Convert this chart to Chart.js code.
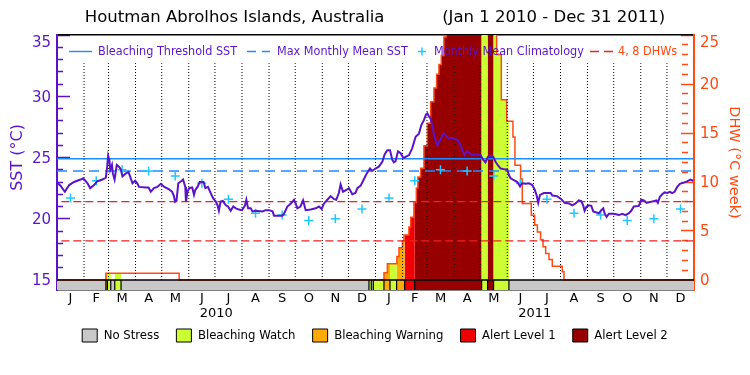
<!DOCTYPE html>
<html><head><meta charset="utf-8">
<script src="https://cdn.jsdelivr.net/npm/chart.js@4.4.1/dist/chart.umd.min.js"></script>
<style>html,body{margin:0;padding:0;background:#fff;}</style>
</head><body>
<canvas id="c" width="750" height="375" style="width:750px;height:375px;display:block"></canvas>
<script>
// ---------- DATA ----------
const monthLetters = ['J','F','M','A','M','J','J','A','S','O','N','D'];
const monthLengths = [31,28,31,30,31,30,31,31,30,31,30,31];
const yearLabels = ['2010','2011'];
// monthly mean climatology (deg C), Jan..Dec
const climatology = [21.7,23.1,24.0,23.9,23.5,22.9,21.6,20.45,20.3,19.85,20.0,20.8];
const maxMonthlyMean = 23.9;
const bleachingThreshold = 24.9;
const dhwLevels = [4, 8];
// SST (days since Jan 1 2010)
const sstDays = [0,4,9,14,19.5,27,30,35,38,42.5,46,52,56,57.5,58.6,60,61,63,64,66,68.5,71,73,75,79,82,86.5,89.5,92,94,102,105,107.5,111,115,119,123,128.5,132,134,135.3,137,139,143,144.5,147,147.8,149.5,151.5,155,157,158.5,161,163.5,168,170,173,175.5,179,182,184,185.5,187.5,190,193.5,196,199,202,205,208.5,212,215.5,217,219,222,224,228,235.5,239,243,247,248.7,258.3,260,264,268,271.6,273.5,275.4,279,282,285,290.7,296.4,300.3,303.3,306,309.8,313.6,317.5,320,323,325,327.8,331.6,334.6,338.4,342,344.2,348,351.5,355,358.7,361,365,368.8,372.8,375.5,378.5,381.6,384.3,386,388,390.8,393.8,397,399.5,403.4,407,411,414.8,417.5,420.5,422.8,424.4,426.3,428,430,432,434,435.8,437.7,439.6,441.5,443.5,446.5,449,453,458.7,462.5,464.5,467,470,473,476,481.6,485.5,488.5,491,493.9,497.7,500,502.6,505.4,508.4,512,516,518,519.8,523.6,527.5,530.5,533,537,540.8,544.7,547.3,549.5,551.5,553.5,558,565.7,567.6,573,577.9,581.7,586.7,590.5,594.3,598,600.8,603,604.6,606.9,609.6,612.3,614.5,621,623.7,626,627.5,629.8,632.5,638.2,644,647.8,651.6,655.4,658,661.1,666.9,669.5,672.6,675.6,681.4,687,688.6,690.9,693.6,696.2,699.3,702.4,705,707.7,710.8,713.8,718.4,722,726,729];
const sstValues = [22.95,22.7,22.2,22.75,23.0,23.2,23.3,22.9,22.5,22.75,23.05,23.2,23.35,24.25,25.15,24.8,24.0,24.4,23.7,23.2,24.4,24.25,24.05,23.45,23.7,23.8,22.9,23.1,22.9,22.6,22.55,22.55,22.2,22.5,22.6,22.85,22.6,22.4,22.2,21.85,21.4,21.5,22.9,23.1,23.2,22.6,21.4,22.2,22.5,22.55,21.95,22.35,22.6,23.0,23.0,22.5,22.6,22.2,21.65,21.4,21.1,20.65,21.4,21.45,21.1,21.0,20.65,21.0,20.85,20.75,20.7,21.1,21.55,20.85,20.85,20.6,20.65,20.6,20.7,20.7,20.6,20.25,20.25,20.4,21.0,21.25,21.55,21.25,20.85,21.0,21.5,20.7,20.75,20.85,21.0,20.8,21.25,21.55,21.85,21.6,21.55,22.1,22.8,22.2,22.35,22.5,22.0,22.1,22.5,22.7,23.2,23.7,24.1,23.9,24.1,24.25,24.65,25.25,25.6,25.6,24.8,24.6,24.7,25.5,25.35,24.95,25.05,25.2,25.75,26.7,26.95,27.65,28.05,28.5,28.6,28.35,28.2,27.65,26.85,26.35,26.0,26.3,26.45,26.85,26.95,26.7,26.55,26.6,26.45,26.0,25.6,25.2,25.5,25.35,25.2,25.25,25.2,24.8,24.6,25.05,25.15,25.05,24.65,24.35,24.1,24.05,24.0,23.55,23.3,23.15,23.0,22.65,22.9,22.85,22.9,22.75,22.4,21.95,21.3,21.95,22.1,22.1,21.9,21.85,21.6,21.3,21.25,21.1,21.25,21.5,21.45,21.1,20.65,21.0,21.1,21.05,20.6,20.45,20.7,20.85,20.45,20.15,20.4,20.4,20.3,20.4,20.3,20.45,20.65,21.0,21.05,21.55,21.5,21.3,21.4,21.5,21.3,21.8,22.0,22.15,22.1,22.2,22.1,22.2,22.6,22.85,22.95,23.05,23.2,23.1];
// Degree Heating Weeks, step values holding from each day onwards
const dhwDays = [0,56,140,374.7,378.6,389.5,391.9,395.8,397.6,403.3,405.3,409,411.8,413.6,416.7,420.5,424.4,428.2,432,435,437.7,440.4,443.4,446,455,470,490,503.8,509.2,515.3,522.5,524.8,531.3,533.2,543.5,547.4,550.5,554.2,557,560,563.8,567.6,579,581];
const dhwValues = [0,0.68,0,0.75,1.65,2.4,3.3,4.0,4.6,5.4,6.4,7.9,9.4,10.5,11.4,13.7,16.0,18.2,19.6,21.0,22.0,22.9,24.8,26.5,29,31,30,23.0,18.4,16.2,14.6,11.7,10.3,7.8,6.6,5.6,4.9,4.1,3.4,2.7,2.1,1.4,0.85,0];
// Bleaching alert level (0 No Stress .. 4 Alert Level 2), each from its start day
const stressStart = [0,56,57.8,61.6,66.2,73.4,357.5,360.2,362.5,374.7,381.6,389.2,398.4,409.9,486.6,493.5,500.3,517.9];
const stressLevel = [0,2,1,0,1,0,1,0,1,2,1,2,3,4,1,4,1,0];
const stressNames = ['No Stress','Bleaching Watch','Bleaching Warning','Alert Level 1','Alert Level 2'];

// ---------- STYLE ----------
const stressColors = ['#c8c8c8','#ccff33','#ffaa00','#f00000','#960000'];
const PURPLE = '#5a14c8', BLUE = '#1e8cff', CYAN = '#1ec8ff', RED = '#f02020', ORANGE = '#ff4a14';
const TOTAL_DAYS = 730;
const SST_MIN = 15 - 10/12.25;      // strip below 15 C holds the alert bar
const DHW_MIN = -10/9.8;
const FONT = "'DejaVu Sans', 'Liberation Sans', sans-serif";
const NARROW = "'DejaVu Sans Condensed', 'Liberation Sans Narrow', 'DejaVu Sans', sans-serif";

function stepAt(days, vals, d){ let v = vals[0]; for (let i=0;i<days.length;i++){ if (days[i] <= d) v = vals[i]; else break; } return v; }

// month geometry from calendar
const monthStarts = []; const monthMids = [];
let acc = 0;
for (let y=0;y<2;y++) for (let m=0;m<12;m++){ monthStarts.push(acc); monthMids.push(acc + monthLengths[m]/2); acc += monthLengths[m]; }
const yearMids = [182.5, 547.5];
const climDays = monthMids;
const climVals = monthMids.map((d,i)=>climatology[i%12]);

const datasets = [];
datasets.push({label:'SST', data: sstDays.map((d,i)=>({x:d,y:sstValues[i]})), yAxisID:'y', borderColor:PURPLE, borderWidth:2, pointRadius:0, order:1});
datasets.push({label:'Monthly Mean Climatology', data: climDays.map((d,i)=>({x:d,y:climVals[i]})), yAxisID:'y', showLine:false, pointStyle:'cross', pointRadius:4.5, pointBorderWidth:1.5, borderColor:CYAN, backgroundColor:CYAN, order:2});
datasets.push({label:'Bleaching Threshold SST', data:[{x:0,y:bleachingThreshold},{x:TOTAL_DAYS,y:bleachingThreshold}], yAxisID:'y', borderColor:BLUE, borderWidth:1.3, pointRadius:0, order:3});
datasets.push({label:'Max Monthly Mean SST', data:[{x:0,y:maxMonthlyMean},{x:TOTAL_DAYS,y:maxMonthlyMean}], yAxisID:'y', borderColor:BLUE, borderWidth:1.3, borderDash:[10,6], pointRadius:0, order:3});
dhwLevels.forEach(v=>datasets.push({label:v+' DHW', data:[{x:5,y:v},{x:TOTAL_DAYS,y:v}], yAxisID:'y2', borderColor:RED, borderWidth:1.3, borderDash:[8,4], pointRadius:0, order:4}));
const monthDots = [];
monthStarts.slice(1).forEach(b=>{ monthDots.push({x:b,y:15},{x:b,y:32.7},{x:b,y:null}); });
datasets.push({label:'months', data:monthDots, yAxisID:'y', borderColor:'#000', borderWidth:1, borderDash:[1,2], pointRadius:0, spanGaps:false, order:5});
datasets.push({label:'bar top', data:[{x:0,y:0},{x:TOTAL_DAYS,y:0}], yAxisID:'y2', borderColor:'#000', borderWidth:1.5, pointRadius:0, order:6});
const seps = [];
stressStart.slice(1).forEach(b=>{ seps.push({x:b,y:DHW_MIN},{x:b,y:0},{x:b,y:null}); });
datasets.push({label:'separators', data:seps, yAxisID:'y2', borderColor:'#000', borderWidth:1.2, pointRadius:0, spanGaps:false, order:6});
datasets.push({label:'DHW', data: dhwDays.map((d,i)=>({x:d,y:dhwValues[i]})).concat([{x:TOTAL_DAYS,y:0}]), yAxisID:'y2', stepped:true, borderColor:ORANGE, borderWidth:1.5, pointRadius:0, order:7});
// alert bar strip
const barBreaks = stressStart.concat([TOTAL_DAYS]);
for (let L=0; L<5; L++){
  datasets.push({label:'bar '+L, data: barBreaks.map(b=>({x:b, y: stepAt(stressStart,stressLevel,b)===L ? 0 : DHW_MIN})), yAxisID:'y2', stepped:true, borderWidth:0, pointRadius:0, backgroundColor:stressColors[L], fill:{value:DHW_MIN}, order:8});
}
// DHW area coloured by alert level
const fillBreaks = Array.from(new Set(stressStart.concat(dhwDays,[TOTAL_DAYS]))).sort((a,b)=>a-b);
for (let L=1; L<5; L++){
  datasets.push({label:'fill '+L, data: fillBreaks.map(b=>({x:b, y: stepAt(stressStart,stressLevel,b)===L ? stepAt(dhwDays,dhwValues,b) : 0})), yAxisID:'y2', stepped:true, borderWidth:0, pointRadius:0, backgroundColor:stressColors[L], fill:{value:0}, order:9});
}

const topLegend = {
  id:'topLegend',
  afterDatasetsDraw(chart){
    const ctx = chart.ctx; const y = 51.5;
    ctx.save();
    ctx.font = "12.5px " + NARROW;
    ctx.textBaseline = 'middle';
    const items = [
      {x:69, kind:'line', dash:[], color:BLUE, text:'Bleaching Threshold SST', tx:98, tc:PURPLE},
      {x:247, kind:'line', dash:[9,6], color:BLUE, text:'Max Monthly Mean SST', tx:277, tc:PURPLE},
      {x:422, kind:'cross', color:CYAN, text:'Monthly Mean Climatology', tx:434, tc:PURPLE},
      {x:590, kind:'line', dash:[9,5], color:RED, text:'4, 8 DHWs', tx:618, tc:ORANGE}
    ];
    items.forEach(it=>{
      ctx.strokeStyle = it.color; ctx.lineWidth = 1.4;
      ctx.beginPath();
      if (it.kind==='line'){ ctx.setLineDash(it.dash); ctx.moveTo(it.x,y); ctx.lineTo(it.x+23,y); }
      else { ctx.setLineDash([]); ctx.moveTo(it.x-4,y); ctx.lineTo(it.x+4,y); ctx.moveTo(it.x,y-4); ctx.lineTo(it.x,y+4); }
      ctx.stroke();
      ctx.setLineDash([]);
      ctx.fillStyle = it.tc; ctx.fillText(it.text, it.tx, y);
    });
    ctx.restore();
  }
};

const minorDash = c => (c.tick && Math.round(c.tick.value) % 5 === 0) ? [] : [0,7,6,100];
// labels every 5; the top label sits just below the frame as in the reference
const labelEvery5 = top => v => { const r = Math.round(v); if (r % 5 !== 0) return ''; return r === top ? ['', String(r)] : String(r); };

new Chart(document.getElementById('c'), {
  type:'line',
  data:{datasets},
  plugins:[topLegend],
  options:{
    responsive:false, animation:false, devicePixelRatio:1, events:[],
    layout:{padding:{left:0,right:0,top:0,bottom:23}},
    plugins:{
      tooltip:{enabled:false},
      title:{display:true, text:'Houtman Abrolhos Islands, Australia           (Jan 1 2010 - Dec 31 2011)', color:'#000', font:{family:FONT, size:16.5, weight:'normal'}, padding:{top:8,bottom:7.2}},
      legend:{display:true, position:'bottom', onClick:null,
        labels:{boxWidth:15, boxHeight:13, padding:6, color:'#000', font:{family:NARROW, size:13},
          generateLabels:()=>stressNames.map((n,i)=>({text: i < stressNames.length-1 ? n + '   ' : n, fillStyle:stressColors[i], strokeStyle:'#000', lineWidth:1, hidden:false, datasetIndex:0}))}}
    },
    scales:{
      x:{type:'linear', position:'bottom', min:0, max:TOTAL_DAYS, weight:0, bounds:'data',
        afterBuildTicks:s=>{ s.ticks = monthMids.map(v=>({value:v})); },
        afterFit:s=>{ s.height = 16; },
        grid:{display:false, drawTicks:false},
        border:{display:true, color:'#000', width:1.5},
        ticks:{autoSkip:false, maxRotation:0, minRotation:0, padding:1, color:'#000', font:{family:FONT, size:13}, callback:(v,i)=>monthLetters[i%12]}},
      xYear:{type:'linear', position:'bottom', min:0, max:TOTAL_DAYS, weight:1, bounds:'data',
        afterBuildTicks:s=>{ s.ticks = yearMids.map(v=>({value:v})); },
        afterFit:s=>{ s.height = 17; },
        grid:{display:false, drawTicks:false}, border:{display:false},
        ticks:{autoSkip:false, maxRotation:0, padding:0, color:'#000', font:{family:FONT, size:13}, callback:(v,i)=>yearLabels[i]}},
      xTop:{type:'linear', position:'top', min:0, max:TOTAL_DAYS, bounds:'data',
        afterFit:s=>{ s.height = 0; },
        grid:{display:false, drawTicks:false}, border:{display:true, color:'#000', width:1.5},
        ticks:{display:false}},
      y:{type:'linear', position:'left', min:SST_MIN, max:35, bounds:'data',
        afterBuildTicks:s=>{ const t=[]; for(let v=15;v<=35;v++) t.push({value:v}); s.ticks=t; },
        afterFit:s=>{ s.width = 57; },
        grid:{display:true, drawOnChartArea:false, drawTicks:true, tickLength:-13, color:PURPLE, tickColor:PURPLE, tickWidth:1.5, tickBorderDash:minorDash},
        border:{display:true, color:PURPLE, width:2},
        ticks:{autoSkip:false, padding:19, labelOffset:1.5, color:PURPLE, font:{family:FONT, size:15, lineHeight:0.9}, callback:labelEvery5(35)},
        title:{display:true, text:'  SST (°C)', color:PURPLE, font:{family:FONT, size:16}, padding:{top:8,bottom:0}}},
      y2:{type:'linear', position:'right', min:DHW_MIN, max:25, bounds:'data',
        afterBuildTicks:s=>{ const t=[]; for(let v=0;v<=25;v++) t.push({value:v}); s.ticks=t; },
        afterFit:s=>{ s.width = 56; },
        grid:{display:true, drawOnChartArea:false, drawTicks:true, tickLength:-13, color:ORANGE, tickColor:ORANGE, tickWidth:1.5, tickBorderDash:minorDash},
        border:{display:true, color:ORANGE, width:2},
        ticks:{autoSkip:false, padding:19, labelOffset:1.5, color:ORANGE, font:{family:FONT, size:15, lineHeight:0.9}, callback:labelEvery5(25)},
        title:{display:true, text:'DHW (°C week)', color:ORANGE, font:{family:FONT, size:14.5}, padding:{top:8,bottom:0}}}
    }
  }
});
</script>
</body></html>
